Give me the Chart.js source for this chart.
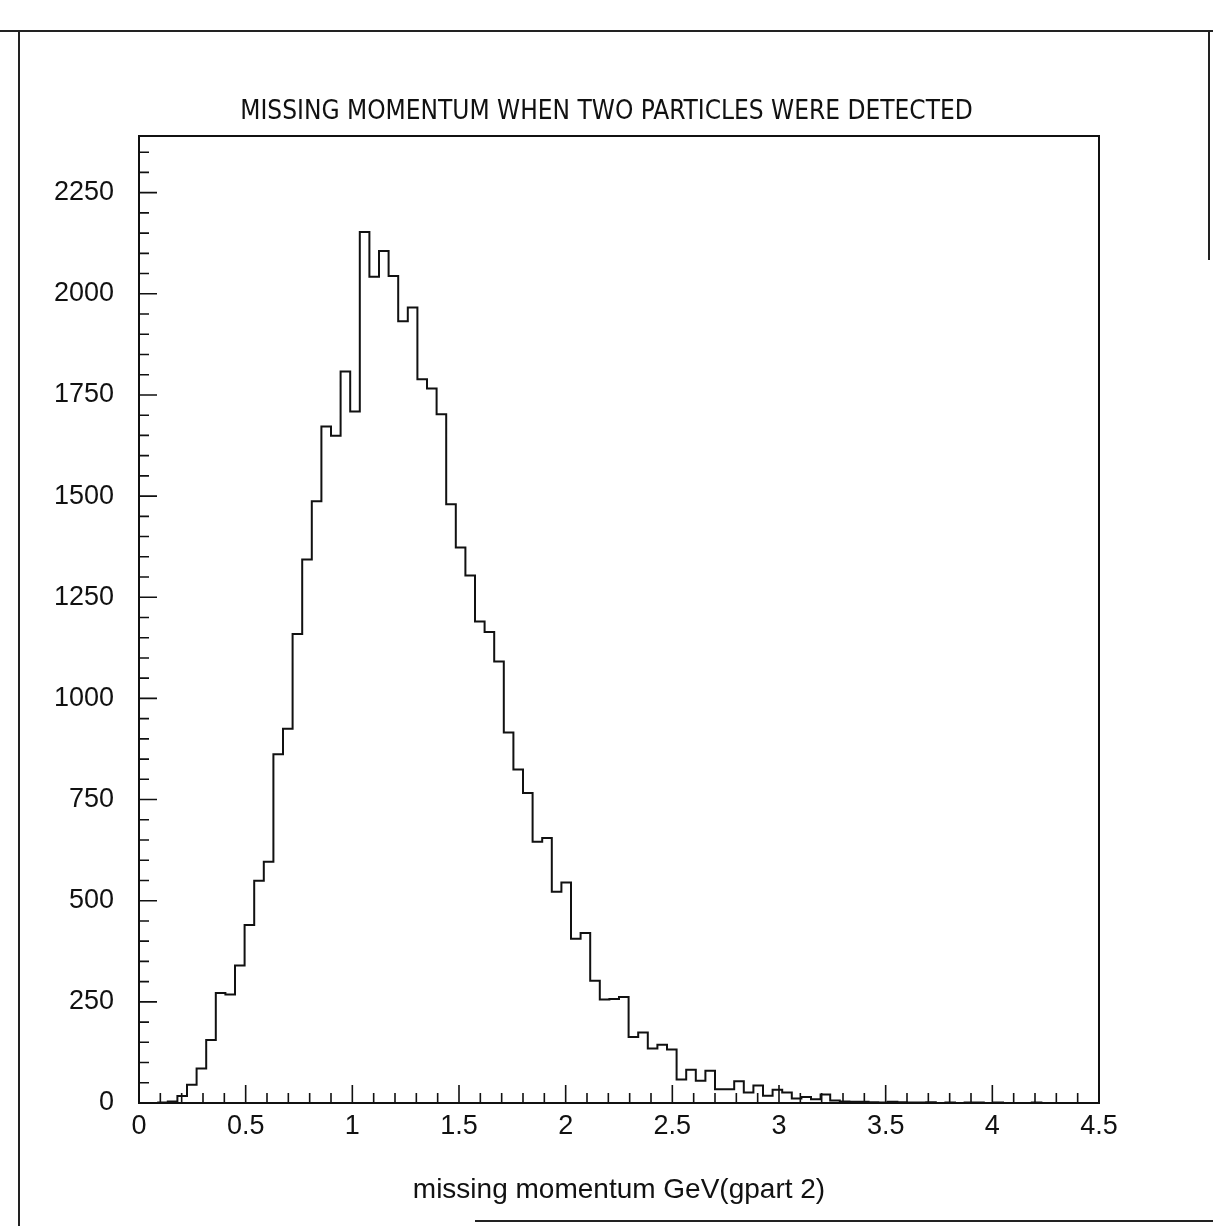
<!DOCTYPE html>
<html><head><meta charset="utf-8">
<script src="https://cdn.jsdelivr.net/npm/chart.js@4.4.0/dist/chart.umd.min.js"></script>
<style>
html,body{margin:0;padding:0;background:#fff;}
#wrap{position:relative;width:1213px;height:1226px;overflow:hidden;}
#c{position:absolute;left:0;top:0;}
.b{position:absolute;background:#222;}
</style></head><body>
<div id="wrap">
<canvas id="c" width="1213" height="1226"></canvas>
<div class="b" style="left:0;top:30px;width:1213px;height:1.5px"></div>
<div class="b" style="left:18px;top:30px;width:1.5px;height:1196px"></div>
<div class="b" style="left:475px;top:1220px;width:738px;height:1.5px"></div>
<div class="b" style="left:1208px;top:30px;width:1.5px;height:230px"></div>
</div>
<script>
// ---- data ----
const titleText = 'MISSING MOMENTUM WHEN TWO PARTICLES WERE DETECTED';
const xTitle = 'missing momentum GeV(gpart 2)';
const binStart = 0;
const binWidth = 0.045;
const counts = [
  0, 0, 1, 4, 17, 45, 85, 156, 272, 268,
  340, 440, 549, 596, 862, 925, 1159, 1343, 1487, 1672,
  1649, 1808, 1709, 2153, 2042, 2106, 2044, 1932, 1966, 1789,
  1766, 1702, 1480, 1373, 1304, 1190, 1164, 1091, 916, 824,
  766, 646, 655, 522, 545, 406, 420, 302, 256, 257,
  262, 163, 174, 135, 144, 132, 58, 82, 55, 80,
  34, 34, 54, 26, 43, 18, 33, 26, 11, 15,
  9, 21, 6, 4, 3, 3, 2, 1, 3, 2,
  1, 1, 2, 0, 1, 0, 1, 1, 0, 1,
  0, 0, 0, 1, 0, 0, 0, 0, 0, 0
];
const xTickValues = [0, 0.5, 1, 1.5, 2, 2.5, 3, 3.5, 4, 4.5];
const yTickValues = [0, 250, 500, 750, 1000, 1250, 1500, 1750, 2000, 2250];
const xMinorStep = 0.1;
const yMinorStep = 50;
const xRange = [0, 4.5];
const yRange = [0, 2390];

// ---- build ----
const points = counts.map((c, i) => ({x: binStart + i * binWidth, y: c}));
points.push({x: binStart + counts.length * binWidth, y: counts[counts.length - 1]});

const FAM = "'Liberation Sans', Arial, sans-serif";
const NARROW = "'Liberation Sans Narrow', 'DejaVu Sans Condensed', 'Liberation Sans', sans-serif";

const frameTicks = {
  id: 'frameTicks',
  afterDraw(chart) {
    const {ctx, chartArea: a, scales: {x, y}} = chart;
    ctx.save();
    ctx.strokeStyle = '#111';
    ctx.lineWidth = 2;
    ctx.strokeRect(a.left, a.top, a.right - a.left, a.bottom - a.top);
    ctx.lineWidth = 1.6;
    ctx.beginPath();
    const nx = Math.round((x.max - x.min) / xMinorStep);
    for (let k = 0; k <= nx; k++) {
      const px = x.getPixelForValue(x.min + k * xMinorStep);
      const len = (k % 5 === 0) ? 18 : 10;
      ctx.moveTo(px, a.bottom); ctx.lineTo(px, a.bottom - len);
    }
    for (let k = 0; k * yMinorStep <= y.max; k++) {
      const py = y.getPixelForValue(k * yMinorStep);
      const len = (k % 5 === 0) ? 18 : 10;
      ctx.moveTo(a.left, py); ctx.lineTo(a.left + len, py);
    }
    ctx.stroke();
    ctx.restore();
  }
};

new Chart(document.getElementById('c'), {
  type: 'line',
  data: {
    datasets: [{
      data: points,
      stepped: 'before',
      borderColor: '#111',
      borderWidth: 2,
      pointRadius: 0,
      fill: false,
      tension: 0
    }]
  },
  options: {
    responsive: false,
    animation: false,
    layout: {padding: 0},
    plugins: {
      legend: {display: false},
      tooltip: {enabled: false},
      title: {
        display: true,
        text: titleText,
        color: '#111',
        font: {family: NARROW, size: 26, weight: 'normal', lineHeight: 1.2},
        padding: {top: 96.4, bottom: 8.4}
      }
    },
    scales: {
      x: {
        type: 'linear',
        min: xRange[0], max: xRange[1],
        grid: {display: false, drawTicks: false},
        border: {display: false},
        afterBuildTicks(s) { s.ticks = xTickValues.map(v => ({value: v})); },
        ticks: {
          color: '#111', padding: 7, maxRotation: 0, autoSkip: false,
          font: {family: FAM, size: 27},
          callback: v => String(v)
        },
        title: {
          display: true, text: xTitle, color: '#111',
          font: {family: FAM, size: 28, lineHeight: 1.2},
          padding: {top: 0, bottom: 19}
        },
        afterFit(s) { s.height = 123; }
      },
      y: {
        type: 'linear',
        min: yRange[0], max: yRange[1],
        grid: {display: false, drawTicks: false},
        border: {display: false},
        afterBuildTicks(s) { s.ticks = yTickValues.map(v => ({value: v})); },
        ticks: {
          color: '#111', padding: 25,
          font: {family: FAM, size: 27},
          callback: v => String(v)
        },
        afterFit(s) { s.width = 139; }
      },
      y2: {
        type: 'linear', position: 'right', display: true,
        grid: {display: false, drawTicks: false},
        border: {display: false},
        ticks: {display: false},
        afterFit(s) { s.width = 114; }
      }
    }
  },
  plugins: [frameTicks]
});
</script>
</body></html>
